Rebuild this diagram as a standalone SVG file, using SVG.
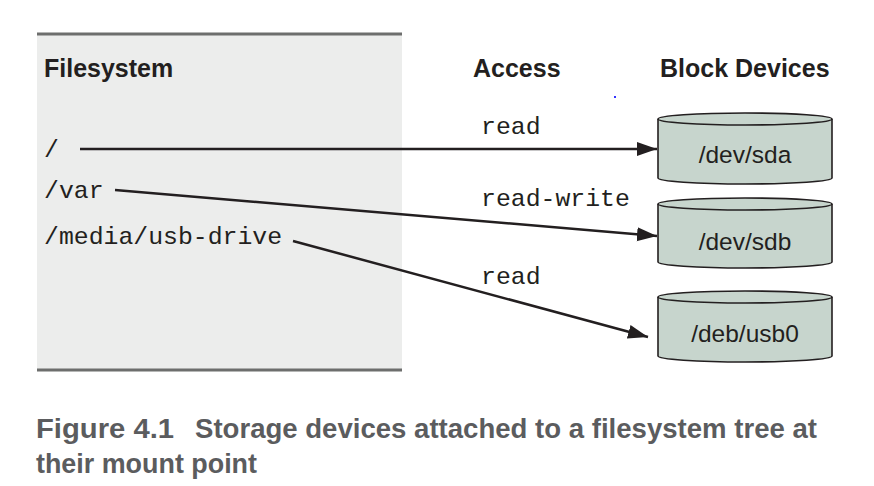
<svg xmlns="http://www.w3.org/2000/svg" width="874" height="486" viewBox="0 0 874 486">
<style>
.hdr{font-family:"Liberation Sans",Arial,sans-serif;font-weight:bold;font-size:25px;fill:#231f20}
.mono{font-family:"Liberation Mono","Courier New",monospace;font-size:24.8px;fill:#231f20}
.dev{font-family:"Liberation Sans",Arial,sans-serif;font-size:24.5px;fill:#231f20;text-anchor:middle}
.cap{font-family:"Liberation Sans Narrow","Liberation Sans",Arial,sans-serif;font-weight:bold;font-size:27px;fill:#5b5c5e}
.cyl{fill:#c7d5cd;stroke:#231f20;stroke-width:1.6}
.conn{stroke:#231f20;stroke-width:2.5;fill:none}
</style>
<defs>
<marker id="ah" markerUnits="userSpaceOnUse" markerWidth="22" markerHeight="16" refX="20" refY="7" orient="auto" viewBox="0 0 22 14">
<path d="M0,0 L20,7 L0,14 Z" fill="#231f20"/>
</marker>
</defs>
<rect width="874" height="486" fill="#ffffff"/>
<g id="filesystem-panel">
<rect x="37" y="34" width="365" height="336" fill="#ecedec"/>
<line x1="37" y1="34" x2="402" y2="34" stroke="#6d6e6d" stroke-width="3"/>
<line x1="37" y1="370" x2="402" y2="370" stroke="#6d6e6d" stroke-width="3"/>
<text class="hdr" x="44" y="77">Filesystem</text>
<text class="mono" x="44" y="157">/</text>
<text class="mono" x="44" y="198">/var</text>
<text class="mono" x="44" y="244">/media/usb-drive</text>
</g>
<g id="headers">
<text class="hdr" x="473" y="77">Access</text>
<text class="hdr" x="660" y="77">Block Devices</text>
</g>
<g id="sda">
<path class="cyl" d="M658,119 L658,178 A87,6 0 0 0 832,178 L832,119"/>
<ellipse class="cyl" cx="745" cy="119" rx="87" ry="6"/>
<text class="dev" x="745" y="163">/dev/sda</text>
</g>
<g id="sdb">
<path class="cyl" d="M658,204 L658,262 A87,6 0 0 0 832,262 L832,204"/>
<ellipse class="cyl" cx="745" cy="204" rx="87" ry="6"/>
<text class="dev" x="745" y="250">/dev/sdb</text>
</g>
<g id="usb0">
<path class="cyl" d="M658,297 L658,356 A87,6 0 0 0 832,356 L832,297"/>
<ellipse class="cyl" cx="745" cy="297" rx="87" ry="6"/>
<text class="dev" x="745" y="342">/deb/usb0</text>
</g>
<g id="connectors">
<line class="conn" x1="80" y1="149" x2="657" y2="149" marker-end="url(#ah)"/>
<line class="conn" x1="115" y1="190" x2="657" y2="236" marker-end="url(#ah)"/>
<line class="conn" x1="293" y1="241" x2="648" y2="337" marker-end="url(#ah)"/>
<text class="mono" x="481" y="134">read</text>
<text class="mono" x="481" y="206">read-write</text>
<text class="mono" x="481" y="284">read</text>
</g>
<rect x="614" y="96" width="2" height="2" fill="#3333ff"/>
<g id="caption">
<text class="cap" x="36" y="438" textLength="138" lengthAdjust="spacingAndGlyphs">Figure 4.1</text>
<text class="cap" x="195" y="438" textLength="622" lengthAdjust="spacingAndGlyphs">Storage devices attached to a filesystem tree at</text>
<text class="cap" x="36" y="473" textLength="221" lengthAdjust="spacingAndGlyphs">their mount point</text>
</g>
</svg>
